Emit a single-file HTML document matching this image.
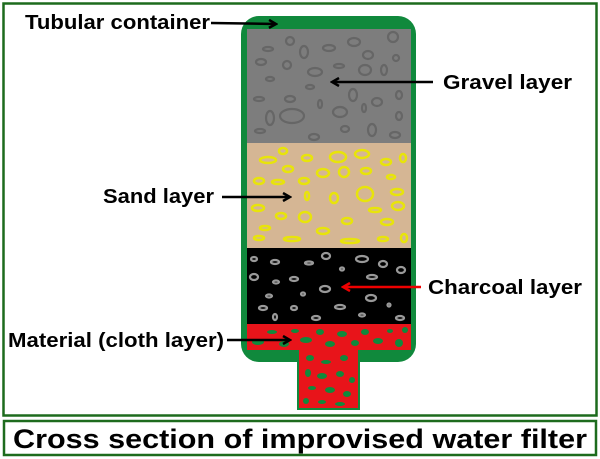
<!DOCTYPE html>
<html><head><meta charset="utf-8"><style>
html,body{margin:0;padding:0;background:#fff;}
svg{display:block;}
text{font-family:"Liberation Sans",sans-serif;font-weight:bold;fill:#000;}
</style></head><body>
<svg width="600" height="459" viewBox="0 0 600 459" xmlns="http://www.w3.org/2000/svg">
<defs>
<marker id="ah" markerWidth="10" markerHeight="10" refX="8" refY="5" orient="auto" markerUnits="userSpaceOnUse"><path d="M1,1 L8,5 L1,9" fill="none" stroke="#000" stroke-width="2.5"/></marker>
<marker id="ahr" markerWidth="10" markerHeight="10" refX="8" refY="5" orient="auto" markerUnits="userSpaceOnUse"><path d="M1,1 L8,5 L1,9" fill="none" stroke="#e00" stroke-width="2.5"/></marker>
</defs>
<rect x="3.5" y="3.5" width="593" height="412" fill="none" stroke="#1d6b1d" stroke-width="2.5"/>
<rect x="4" y="421" width="592" height="34" fill="none" stroke="#1d6b1d" stroke-width="2.5"/>
<rect x="241" y="16" width="175" height="346" rx="18" fill="#10893c"/>
<rect x="297" y="350" width="63" height="60" fill="#10893c"/>
<rect x="247" y="29" width="164" height="114" fill="#7d7d7d"/>
<rect x="247" y="143" width="164" height="105" fill="#d5b694"/>
<rect x="247" y="248" width="164" height="76" fill="#000"/>
<g fill="none" stroke="#666" stroke-width="2.2">
<ellipse cx="290" cy="41" rx="4" ry="4"/><ellipse cx="354" cy="42" rx="6" ry="4"/><ellipse cx="393" cy="37" rx="5" ry="5"/>
<ellipse cx="268" cy="49" rx="5" ry="2"/><ellipse cx="304" cy="52" rx="4" ry="6"/><ellipse cx="329" cy="48" rx="6" ry="3"/>
<ellipse cx="368" cy="55" rx="5" ry="4"/><ellipse cx="396" cy="58" rx="3" ry="3"/><ellipse cx="261" cy="62" rx="5" ry="3"/>
<ellipse cx="287" cy="65" rx="4" ry="4"/><ellipse cx="315" cy="72" rx="7" ry="4"/><ellipse cx="339" cy="66" rx="5" ry="2"/>
<ellipse cx="365" cy="70" rx="6" ry="5"/><ellipse cx="384" cy="70" rx="3" ry="5"/><ellipse cx="270" cy="79" rx="4" ry="2"/>
<ellipse cx="310" cy="87" rx="4" ry="2"/><ellipse cx="353" cy="95" rx="4" ry="6"/><ellipse cx="399" cy="95" rx="3" ry="4"/>
<ellipse cx="259" cy="99" rx="5" ry="2"/><ellipse cx="290" cy="99" rx="5" ry="3"/><ellipse cx="320" cy="104" rx="2" ry="4"/>
<ellipse cx="377" cy="102" rx="5" ry="4"/><ellipse cx="364" cy="108" rx="2" ry="4"/><ellipse cx="270" cy="118" rx="4" ry="7"/>
<ellipse cx="292" cy="116" rx="12" ry="7"/><ellipse cx="340" cy="112" rx="7" ry="5"/><ellipse cx="399" cy="116" rx="3" ry="4"/>
<ellipse cx="260" cy="131" rx="5" ry="2"/><ellipse cx="345" cy="129" rx="4" ry="3"/><ellipse cx="372" cy="130" rx="4" ry="6"/>
<ellipse cx="314" cy="137" rx="5" ry="3"/><ellipse cx="395" cy="135" rx="5" ry="3"/>
</g>
<g fill="none" stroke="#e8e40a" stroke-width="2.5">
<ellipse cx="283" cy="151" rx="4" ry="3"/><ellipse cx="268" cy="160" rx="8" ry="3"/><ellipse cx="307" cy="158" rx="5" ry="3"/>
<ellipse cx="338" cy="157" rx="8" ry="5"/><ellipse cx="362" cy="154" rx="7" ry="4"/><ellipse cx="386" cy="162" rx="5" ry="3"/>
<ellipse cx="403" cy="158" rx="3" ry="4"/><ellipse cx="288" cy="169" rx="5" ry="3"/><ellipse cx="323" cy="173" rx="6" ry="4"/>
<ellipse cx="344" cy="172" rx="5" ry="5"/><ellipse cx="366" cy="171" rx="5" ry="3"/><ellipse cx="391" cy="177" rx="4" ry="2"/>
<ellipse cx="259" cy="181" rx="5" ry="3"/><ellipse cx="278" cy="182" rx="6" ry="2"/><ellipse cx="304" cy="181" rx="5" ry="3"/>
<ellipse cx="307" cy="196" rx="2" ry="4"/><ellipse cx="334" cy="198" rx="4" ry="5"/><ellipse cx="365" cy="194" rx="8" ry="7"/>
<ellipse cx="397" cy="192" rx="6" ry="3"/><ellipse cx="258" cy="208" rx="6" ry="3"/><ellipse cx="398" cy="206" rx="6" ry="4"/>
<ellipse cx="375" cy="210" rx="6" ry="2"/><ellipse cx="281" cy="216" rx="5" ry="3"/><ellipse cx="305" cy="217" rx="6" ry="5"/>
<ellipse cx="347" cy="221" rx="5" ry="3"/><ellipse cx="387" cy="222" rx="6" ry="3"/><ellipse cx="265" cy="228" rx="5" ry="2"/>
<ellipse cx="323" cy="231" rx="6" ry="3"/><ellipse cx="259" cy="238" rx="5" ry="2"/><ellipse cx="292" cy="239" rx="8" ry="2"/>
<ellipse cx="350" cy="241" rx="9" ry="2"/><ellipse cx="383" cy="239" rx="5" ry="2"/><ellipse cx="404" cy="238" rx="3" ry="4"/>
</g>
<g fill="none" stroke="#999" stroke-width="2.2">
<ellipse cx="254" cy="259" rx="3" ry="2"/><ellipse cx="275" cy="262" rx="4" ry="2"/><ellipse cx="326" cy="256" rx="4" ry="3"/>
<ellipse cx="309" cy="263" rx="4" ry="1.5"/><ellipse cx="362" cy="259" rx="6" ry="3"/><ellipse cx="383" cy="264" rx="4" ry="3"/>
<ellipse cx="401" cy="270" rx="4" ry="3"/><ellipse cx="342" cy="269" rx="2" ry="1.5"/><ellipse cx="254" cy="277" rx="4" ry="3"/>
<ellipse cx="294" cy="279" rx="4" ry="2"/><ellipse cx="276" cy="282" rx="3" ry="1.5"/><ellipse cx="372" cy="277" rx="5" ry="2"/>
<ellipse cx="325" cy="289" rx="5" ry="3"/><ellipse cx="303" cy="294" rx="2" ry="1.5"/><ellipse cx="269" cy="296" rx="3" ry="1.5"/>
<ellipse cx="371" cy="298" rx="5" ry="3"/><ellipse cx="263" cy="308" rx="4" ry="2"/><ellipse cx="294" cy="308" rx="3" ry="2"/>
<ellipse cx="340" cy="307" rx="5" ry="2"/><ellipse cx="389" cy="305" rx="1.5" ry="1.5"/><ellipse cx="275" cy="317" rx="2" ry="3"/>
<ellipse cx="316" cy="318" rx="4" ry="2"/><ellipse cx="362" cy="315" rx="3" ry="1.5"/><ellipse cx="400" cy="318" rx="4" ry="2"/>
</g>
<rect x="247" y="324" width="164" height="26" fill="#e8141a"/>
<rect x="299" y="350" width="59" height="58" fill="#e8141a"/>
<g fill="#10893c">
<ellipse cx="258" cy="342" rx="6" ry="3"/><ellipse cx="272" cy="332" rx="5" ry="2"/><ellipse cx="284" cy="344" rx="5" ry="3"/>
<ellipse cx="295" cy="331" rx="4" ry="2"/><ellipse cx="306" cy="340" rx="6" ry="3"/><ellipse cx="320" cy="332" rx="4" ry="3"/>
<ellipse cx="330" cy="344" rx="5" ry="3"/><ellipse cx="342" cy="334" rx="5" ry="3"/><ellipse cx="355" cy="343" rx="4" ry="3"/>
<ellipse cx="365" cy="332" rx="4" ry="3"/><ellipse cx="378" cy="341" rx="5" ry="3"/><ellipse cx="390" cy="331" rx="3" ry="2"/>
<ellipse cx="399" cy="343" rx="4" ry="4"/><ellipse cx="405" cy="330" rx="3" ry="3"/>
<ellipse cx="310" cy="358" rx="4" ry="3"/><ellipse cx="326" cy="362" rx="5" ry="2"/><ellipse cx="344" cy="358" rx="4" ry="3"/>
<ellipse cx="308" cy="373" rx="3" ry="4"/><ellipse cx="322" cy="376" rx="5" ry="3"/><ellipse cx="340" cy="374" rx="4" ry="3"/><ellipse cx="352" cy="380" rx="3" ry="3"/>
<ellipse cx="312" cy="388" rx="4" ry="2"/><ellipse cx="330" cy="390" rx="5" ry="3"/><ellipse cx="347" cy="394" rx="4" ry="3"/>
<ellipse cx="306" cy="401" rx="3" ry="3"/><ellipse cx="322" cy="402" rx="4" ry="2"/><ellipse cx="340" cy="404" rx="5" ry="2"/>
</g>
<text x="25" y="29" font-size="20" textLength="185" lengthAdjust="spacingAndGlyphs">Tubular container</text>
<line x1="211" y1="23" x2="276" y2="24" stroke="#000" stroke-width="2.5" marker-end="url(#ah)"/>
<text x="443" y="89" font-size="20" textLength="129" lengthAdjust="spacingAndGlyphs">Gravel layer</text>
<line x1="433" y1="82" x2="332" y2="82" stroke="#000" stroke-width="2.5" marker-end="url(#ah)"/>
<text x="103" y="203" font-size="20" textLength="111" lengthAdjust="spacingAndGlyphs">Sand layer</text>
<line x1="222" y1="197" x2="290" y2="197" stroke="#000" stroke-width="2.5" marker-end="url(#ah)"/>
<text x="428" y="294" font-size="20" textLength="154" lengthAdjust="spacingAndGlyphs">Charcoal layer</text>
<line x1="421" y1="287" x2="343" y2="287" stroke="#e00" stroke-width="2.5" marker-end="url(#ahr)"/>
<text x="8" y="347" font-size="20" textLength="216" lengthAdjust="spacingAndGlyphs">Material (cloth layer)</text>
<line x1="227" y1="340" x2="290" y2="340" stroke="#000" stroke-width="2.5" marker-end="url(#ah)"/>
<text x="300" y="448" font-size="27" text-anchor="middle" textLength="574" lengthAdjust="spacingAndGlyphs">Cross section of improvised water filter</text>
</svg>
</body></html>
